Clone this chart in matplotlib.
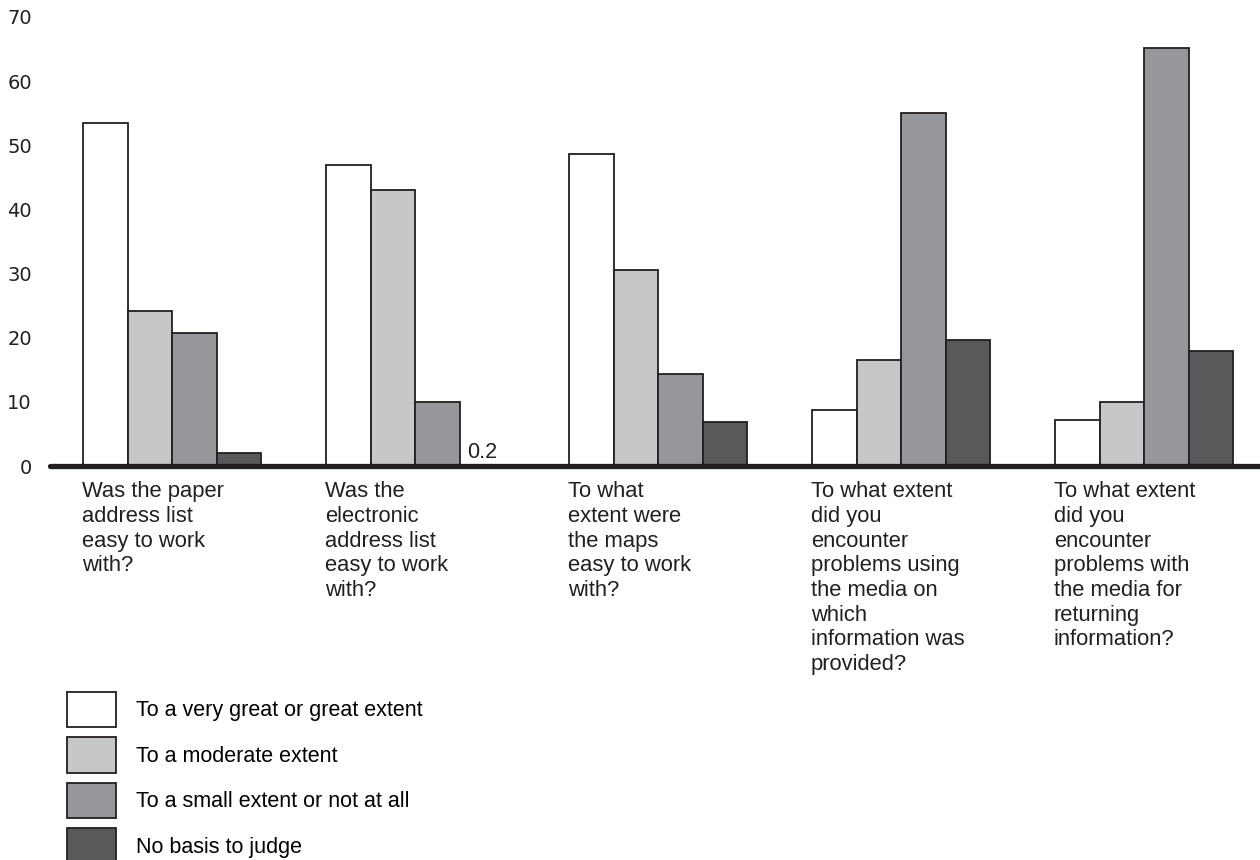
import numpy as np
import matplotlib.pyplot as plt

plt.rcParams['font.family'] = ['Liberation Sans', 'DejaVu Sans']

questions = [
    "Was the paper\naddress list\neasy to work\nwith?",
    "Was the\nelectronic\naddress list\neasy to work\nwith?",
    "To what\nextent were\nthe maps\neasy to work\nwith?",
    "To what extent\ndid you\nencounter\nproblems using\nthe media on\nwhich\ninformation was\nprovided?",
    "To what extent\ndid you\nencounter\nproblems with\nthe media for\nreturning\ninformation?",
]
series_names = [
    "To a very great or great extent",
    "To a moderate extent",
    "To a small extent or not at all",
    "No basis to judge",
]
great = [53.4, 47.0, 48.7, 8.7, 7.1]
moderate = [24.2, 43.1, 30.5, 16.5, 10.0]
small = [20.8, 10.0, 14.4, 55.1, 65.2]
no_basis = [2.0, 0.2, 6.8, 19.7, 17.9]
yticks = [0, 10, 20, 30, 40, 50, 60, 70]

colors = ['#ffffff', '#c6c7c9', '#96979b', '#58595b']
edge = '#231f20'
fs = 15.8

fig = plt.figure(figsize=(12.6, 8.6), dpi=100)
ax = fig.add_axes([50 / 1260, 1 - 466 / 860, 1210 / 1260, 449 / 860])

x = np.arange(len(questions))
w = 0.183
all_series = [great, moderate, small, no_basis]
for k, vals in enumerate(all_series):
    ax.bar(x + (k - 1.5) * w, vals, width=w, color=colors[k], edgecolor=edge,
           linewidth=1.3, label=series_names[k], zorder=2)

# the 0.2 value is too small to see, so it is written instead
ax.text(x[1] + 1.5 * w, no_basis[1] + 0.3, str(no_basis[1]), ha='center', va='bottom',
        fontsize=15.5, color=edge)

ax.set_xlim(-0.502, 4.476)
ax.set_ylim(0, 70)
ax.set_yticks(yticks)
ax.set_yticklabels([str(t) for t in yticks], fontsize=14, color=edge, family='DejaVu Sans')
ax.tick_params(axis='y', length=0, pad=13)
ax.tick_params(axis='x', length=0, labelbottom=False)
for s in ['top', 'right', 'left']:
    ax.spines[s].set_visible(False)
ax.spines['bottom'].set_linewidth(3.8)
ax.spines['bottom'].set_color(edge)
ax.spines['bottom'].set_capstyle('round')

for i, q in enumerate(questions):
    ax.annotate(q, xy=(x[i] - 2 * w, 0), xytext=(-1, -11), textcoords='offset points',
                ha='left', va='top', fontsize=fs, linespacing=1.23, color=edge)

fig.legend(loc='upper left', bbox_to_anchor=(67 / 1260, 1 - 692 / 860), frameon=False,
           fontsize=15.5, handlelength=2.28, handleheight=2.15, labelspacing=0.47,
           handletextpad=0.93, borderpad=0, borderaxespad=0)

fig.savefig('out.png', dpi=100)
